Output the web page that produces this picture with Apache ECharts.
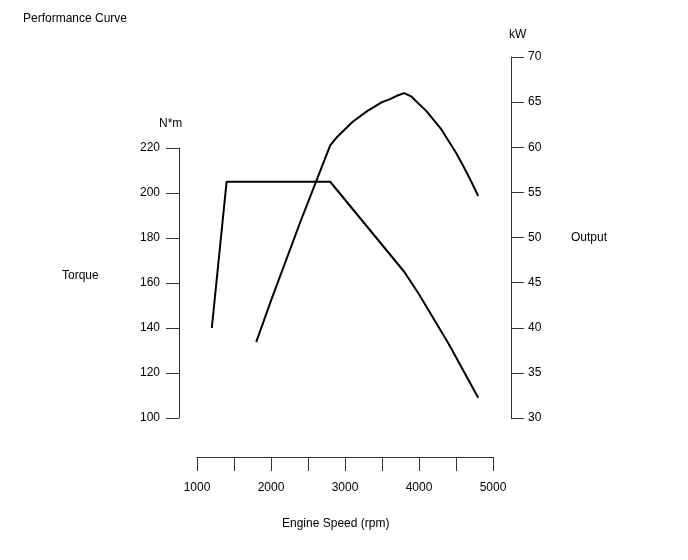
<!DOCTYPE html>
<html>
<head>
<meta charset="utf-8">
<script src="https://cdn.jsdelivr.net/npm/echarts@6/dist/echarts.min.js"></script>
<style>html,body{margin:0;padding:0;background:#fff}#c{width:688px;height:560px}</style>
</head>
<body>
<div id="c"></div>
<script>
const torqueRpm = [1200, 1400, 2800, 3800, 4000, 4200, 4400, 4600, 4800];
const torqueNm  = [140, 205, 205, 165, 155, 144, 133, 121, 109];
const outputRpm = [1800, 2000, 2400, 2800, 2900, 3000, 3100, 3200, 3300, 3400, 3500, 3600, 3700, 3800, 3900, 4000, 4100, 4200, 4300, 4400, 4500, 4600, 4700, 4800];
const outputKw  = [38.4, 43.0, 51.8, 60.2, 61.2, 62.0, 62.8, 63.4, 64.0, 64.5, 65.0, 65.3, 65.7, 66.0, 65.6, 64.8, 64.0, 63.0, 62.0, 60.7, 59.4, 57.9, 56.3, 54.6];
const rpmTicks = [1000, 2000, 3000, 4000, 5000];

const chart = echarts.init(document.getElementById('c'), null, {renderer: 'canvas'});
const font = 'Liberation Sans, Arial, sans-serif';
const axisCol = '#333';
const txt = {color: '#000', fontFamily: font, fontSize: 12};

chart.setOption({
  animation: false,
  backgroundColor: '#fff',
  grid: [
    {left: 197, width: 296, top: 148, height: 270},
    {left: 197, width: 296, top: 57, height: 361}
  ],
  xAxis: [
    {type: 'value', gridIndex: 0, min: 1000, max: 5000, interval: 500, offset: 39,
     axisLine: {show: true, lineStyle: {color: axisCol, width: 1}},
     axisTick: {show: true, length: 14, lineStyle: {color: axisCol}},
     axisLabel: Object.assign({margin: 25, formatter: v => rpmTicks.includes(v) ? String(v) : ''}, txt),
     splitLine: {show: false}},
    {type: 'value', gridIndex: 1, min: 1000, max: 5000, show: false, splitLine: {show: false}}
  ],
  yAxis: [
    {type: 'value', gridIndex: 0, position: 'left', min: 100, max: 220, interval: 20, offset: 18,
     axisLine: {show: true, lineStyle: {color: axisCol, width: 1}},
     axisTick: {show: true, length: 13, lineStyle: {color: axisCol}},
     axisLabel: Object.assign({margin: 19}, txt),
     splitLine: {show: false}},
    {type: 'value', gridIndex: 1, position: 'right', min: 30, max: 70, interval: 5, offset: 18,
     axisLine: {show: true, lineStyle: {color: axisCol, width: 1}},
     axisTick: {show: true, length: 13, lineStyle: {color: axisCol}},
     axisLabel: Object.assign({margin: 17}, txt),
     splitLine: {show: false}}
  ],
  series: [
    {type: 'line', xAxisIndex: 0, yAxisIndex: 0, showSymbol: false, symbol: 'none',
     lineStyle: {color: '#000', width: 2}, data: torqueRpm.map((r, i) => [r, torqueNm[i]])},
    {type: 'line', xAxisIndex: 1, yAxisIndex: 1, showSymbol: false, symbol: 'none',
     lineStyle: {color: '#000', width: 2}, data: outputRpm.map((r, i) => [r, outputKw[i]])}
  ],
  graphic: [
    {type: 'text', left: 23, top: 13, style: {text: 'Performance Curve', fill: '#000', font: '12px ' + font}},
    {type: 'text', left: 159, top: 118, style: {text: 'N*m', fill: '#000', font: '12px ' + font}},
    {type: 'text', left: 509, top: 29, style: {text: 'kW', fill: '#000', font: '12px ' + font}},
    {type: 'text', left: 62, top: 270, style: {text: 'Torque', fill: '#000', font: '12px ' + font}},
    {type: 'text', left: 571, top: 232, style: {text: 'Output', fill: '#000', font: '12px ' + font}},
    {type: 'text', left: 282, top: 518, style: {text: 'Engine Speed (rpm)', fill: '#000', font: '12px ' + font}}
  ]
});
</script>
</body>
</html>
